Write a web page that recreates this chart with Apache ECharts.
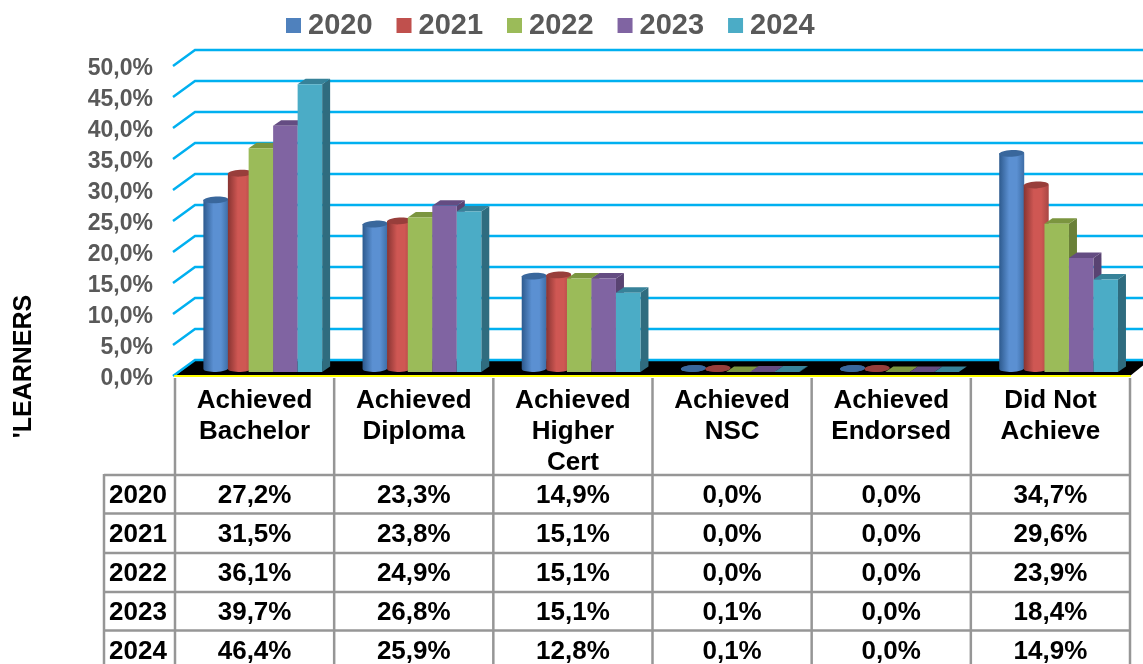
<!DOCTYPE html>
<html>
<head>
<meta charset="utf-8">
<style>html,body{margin:0;padding:0;background:#fff}#c{width:1143px;height:664px}</style>
<script src="https://cdn.jsdelivr.net/npm/echarts@6/dist/echarts.min.js"></script>
</head>
<body>
<div id="c"></div>
<script>
var categories = ['Achieved\nBachelor', 'Achieved\nDiploma', 'Achieved\nHigher\nCert', 'Achieved\nNSC', 'Achieved\nEndorsed', 'Did Not\nAchieve'];
var years = ['2020', '2021', '2022', '2023', '2024'];
var v2020 = [27.2, 23.3, 14.9, 0.0, 0.0, 34.7];
var v2021 = [31.5, 23.8, 15.1, 0.0, 0.0, 29.6];
var v2022 = [36.1, 24.9, 15.1, 0.0, 0.0, 23.9];
var v2023 = [39.7, 26.8, 15.1, 0.1, 0.0, 18.4];
var v2024 = [46.4, 25.9, 12.8, 0.1, 0.0, 14.9];
var yTicks = [0, 5, 10, 15, 20, 25, 30, 35, 40, 45, 50];

var allValues = [v2020, v2021, v2022, v2023, v2024];
var GRID = {left: 175, right: 13, top: 66, bottom: 288};
var WIDTH = 1143, HEIGHT = 664;
var DEPTH_X = 20, DEPTH_Y = 16;
var LINE = '#00B0F0', TABLE_LINE = '#969696';
var looks = [
  {kind: 'cyl', shift: -39, w: 25, front: '#4F81BD', top: '#39679C', stops: ['#2D5A8E', '#5B90D2', '#3D6DA6']},
  {kind: 'cyl', shift: -14.5, w: 25, front: '#C0504D', top: '#983E3B', stops: ['#883432', '#CF5753', '#A84644']},
  {kind: 'box', shift: -2, w: 24.5, front: '#9BBB59', side: '#6A8038', top: '#7B953F'},
  {kind: 'box', shift: 22.5, w: 24.5, front: '#8064A2', side: '#594372', top: '#644C82'},
  {kind: 'box', shift: 47, w: 24.5, front: '#4BACC6', side: '#2F6C7F', top: '#378299'}
];

function boxItem(p, look) {
  var cx = p[0] + 8.3 + look.shift, top = p[1] - 4, base = p[2] - 4;
  var l = cx - look.w / 2, r = cx + look.w / 2, dx = 8, dy = 5.5;
  return {type: 'group', children: [
    {type: 'polygon', shape: {points: [[r, top], [r + dx, top - dy], [r + dx, base - dy], [r, base]]}, style: {fill: look.side}},
    {type: 'polygon', shape: {points: [[l, top], [l + dx, top - dy], [r + dx, top - dy], [r, top]]}, style: {fill: look.top}},
    {type: 'rect', shape: {x: l, y: top, width: look.w, height: base - top}, style: {fill: look.front}}
  ]};
}
function cylItem(p, look) {
  var cx = p[0] + 0.3 + look.shift, top = p[1] - 7.5, base = p[2] - 7.5;
  var rx = look.w / 2, ry = 3.4, l = cx - rx;
  var grad = new echarts.graphic.LinearGradient(0, 0, 1, 0, [
    {offset: 0, color: look.stops[0]}, {offset: 0.4, color: look.stops[1]}, {offset: 0.7, color: look.stops[1]}, {offset: 1, color: look.stops[2]}
  ]);
  return {type: 'group', children: [
    {type: 'ellipse', shape: {cx: cx, cy: base, rx: rx, ry: ry}, rotation: 0.05, originX: cx, originY: base, style: {fill: base - top < 1 ? look.top : grad}},
    {type: 'rect', shape: {x: l, y: top, width: look.w, height: base - top}, style: {fill: grad}},
    {type: 'ellipse', shape: {cx: cx, cy: top, rx: rx, ry: ry}, rotation: 0.05, originX: cx, originY: top, style: {fill: look.top}}
  ]};
}
function barSeries(name, idx) {
  var look = looks[idx];
  return {
    name: name, type: 'custom', z: 3 + idx, clip: false,
    itemStyle: {color: look.front},
    encode: {x: 0, y: 1},
    data: allValues[idx].map(function (v, i) { return [i, v]; }),
    renderItem: function (params, api) {
      var c = api.coord([api.value(0), api.value(1)]);
      var zero = api.coord([api.value(0), 0]);
      var p = [c[0], c[1], zero[1]];
      return look.kind === 'cyl' ? cylItem(p, look) : boxItem(p, look);
    }
  };
}
var wallSeries = {
  type: 'custom', z: 2, clip: false, silent: true,
  encode: {x: 0, y: 1},
  data: yTicks.map(function (t) { return [0, t]; }),
  renderItem: function (params, api) {
    var c = api.coord([0, api.value(1)]);
    var x0 = c[0] - api.size([1, 0])[0] / 2, y = c[1];
    return {type: 'polyline', shape: {points: [[x0 - 2, y], [x0 + DEPTH_X, y - DEPTH_Y], [WIDTH + 5, y - DEPTH_Y]]}, style: {stroke: LINE, lineWidth: 2.5, fill: null}};
  }
};
var floorSeries = {
  type: 'custom', z: 1, clip: false, silent: true,
  encode: {x: 0, y: 1},
  data: [[0, 0]],
  renderItem: function (params, api) {
    var c = api.coord([0, 0]), band = api.size([1, 0])[0];
    var x0 = c[0] - band / 2, x1 = x0 + band * categories.length, y = c[1];
    return {type: 'polygon', shape: {points: [[x0, y], [x0 + DEPTH_X, y - DEPTH_Y], [x1 + DEPTH_X, y - DEPTH_Y], [x1, y]]}, style: {fill: '#000'}};
  }
};

var graphics = [];
var colW = (WIDTH - GRID.left - GRID.right) / categories.length;
var rowY = [475, 513.5, 553, 592, 630.5];
var rowH = 38.8;
var tableLeft = 104;
function vLine(x, y0) { graphics.push({type: 'line', z: 1, shape: {x1: x, y1: y0, x2: x, y2: HEIGHT}, style: {stroke: TABLE_LINE, lineWidth: 2.5}}); }
function hLine(y) { graphics.push({type: 'line', z: 1, shape: {x1: tableLeft, y1: y, x2: GRID.left + colW * categories.length, y2: y}, style: {stroke: TABLE_LINE, lineWidth: 2.5}}); }
for (var k = 0; k <= categories.length; k++) vLine(GRID.left + k * colW, 378);
vLine(tableLeft, 474);
rowY.forEach(hLine);
function cell(x, y, s) {
  graphics.push({type: 'text', z: 2, x: x, y: y, style: {text: s, fill: '#000', font: 'bold 26px "Liberation Sans", Arial, sans-serif', textAlign: 'center', textVerticalAlign: 'middle'}});
}
years.forEach(function (yr, r) {
  var cy = rowY[r] + rowH / 2 + 1.5;
  cell((tableLeft + GRID.left) / 2 - 1.5, cy, yr);
  allValues[r].forEach(function (v, c) {
    cell(GRID.left + (c + 0.5) * colW, cy, v.toFixed(1).replace('.', ',') + '%');
  });
});
graphics.push({type: 'text', x: 24, y: 366.5, rotation: Math.PI / 2, style: {text: "'LEARNERS", fill: '#000', font: 'bold 25px "Liberation Sans", Arial, sans-serif', textAlign: 'center', textVerticalAlign: 'middle'}});

var chart = echarts.init(document.getElementById('c'), null, {renderer: 'canvas'});
chart.setOption({
  animation: false,
  backgroundColor: '#fff',
  grid: {left: GRID.left, right: GRID.right, top: GRID.top, bottom: GRID.bottom, containLabel: false},
  legend: {
    show: true, top: 6, left: 281, itemWidth: 15, itemHeight: 15, itemGap: 24, icon: 'rect',
    data: years,
    textStyle: {color: '#595959', fontWeight: 'bold', fontSize: 29, fontFamily: '"Liberation Sans", Arial, sans-serif', padding: [0, 0, 0, 2]}
  },
  xAxis: {
    type: 'category', data: categories, boundaryGap: true,
    axisTick: {show: false},
    axisLine: {show: true, lineStyle: {color: '#FFFF00', width: 2}},
    axisLabel: {interval: 0, margin: 9, color: '#000', fontWeight: 'bold', fontSize: 26, lineHeight: 31, verticalAlign: 'top', fontFamily: '"Liberation Sans", Arial, sans-serif'},
    z: 5
  },
  yAxis: {
    type: 'value', min: 0, max: 50, interval: 5,
    axisLine: {show: false}, axisTick: {show: false}, splitLine: {show: false},
    axisLabel: {margin: 22, verticalAlign: 'top', lineHeight: 6, color: '#595959', fontWeight: 'bold', fontSize: 23, fontFamily: '"Liberation Sans", Arial, sans-serif',
      formatter: function (v) { return v.toFixed(1).replace('.', ',') + '%'; }}
  },
  series: [floorSeries, wallSeries].concat(years.map(barSeries)),
  graphic: graphics
});
</script>
</body>
</html>
